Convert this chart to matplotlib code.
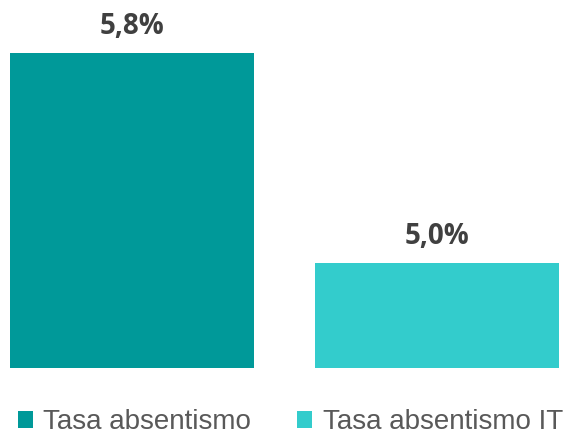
import matplotlib.pyplot as plt
from matplotlib.patches import Patch

# data
categories = ["Tasa absentismo", "Tasa absentismo IT"]
values = [5.8, 5.0]
labels = ["5,8%", "5,0%"]
colors = ["#009999", "#33CCCC"]

fig = plt.figure(figsize=(5.66, 4.36), dpi=100)
ax = fig.add_axes([0, 0.156, 1, 0.844])

x = list(range(len(values)))
bars = ax.bar(x, values, width=0.8, color=colors, bottom=0)

for xi, v, lab in zip(x, values, labels):
    ax.annotate(lab, xy=(xi, v), xytext=(0, 13.7), textcoords="offset points",
                ha="center", va="baseline", fontsize=20, fontweight="bold",
                family="Open Sans", color="#404040")

ax.set_ylim(4.6, 6.0)
ax.set_xlim(-0.4327, 1.4229)
ax.axis("off")

handles = [Patch(facecolor=c, edgecolor="none") for c in colors]
leg = fig.legend(handles, categories, loc="center", bbox_to_anchor=(0.513, 0.031),
                 ncol=2, frameon=False, prop={"family": "Liberation Sans", "size": 20},
                 handlelength=0.55, handleheight=0.55, handletextpad=0.37,
                 columnspacing=1.65, borderpad=0, borderaxespad=0)
for t in leg.get_texts():
    t.set_color("#595959")

fig.savefig("out.png", dpi=100)
